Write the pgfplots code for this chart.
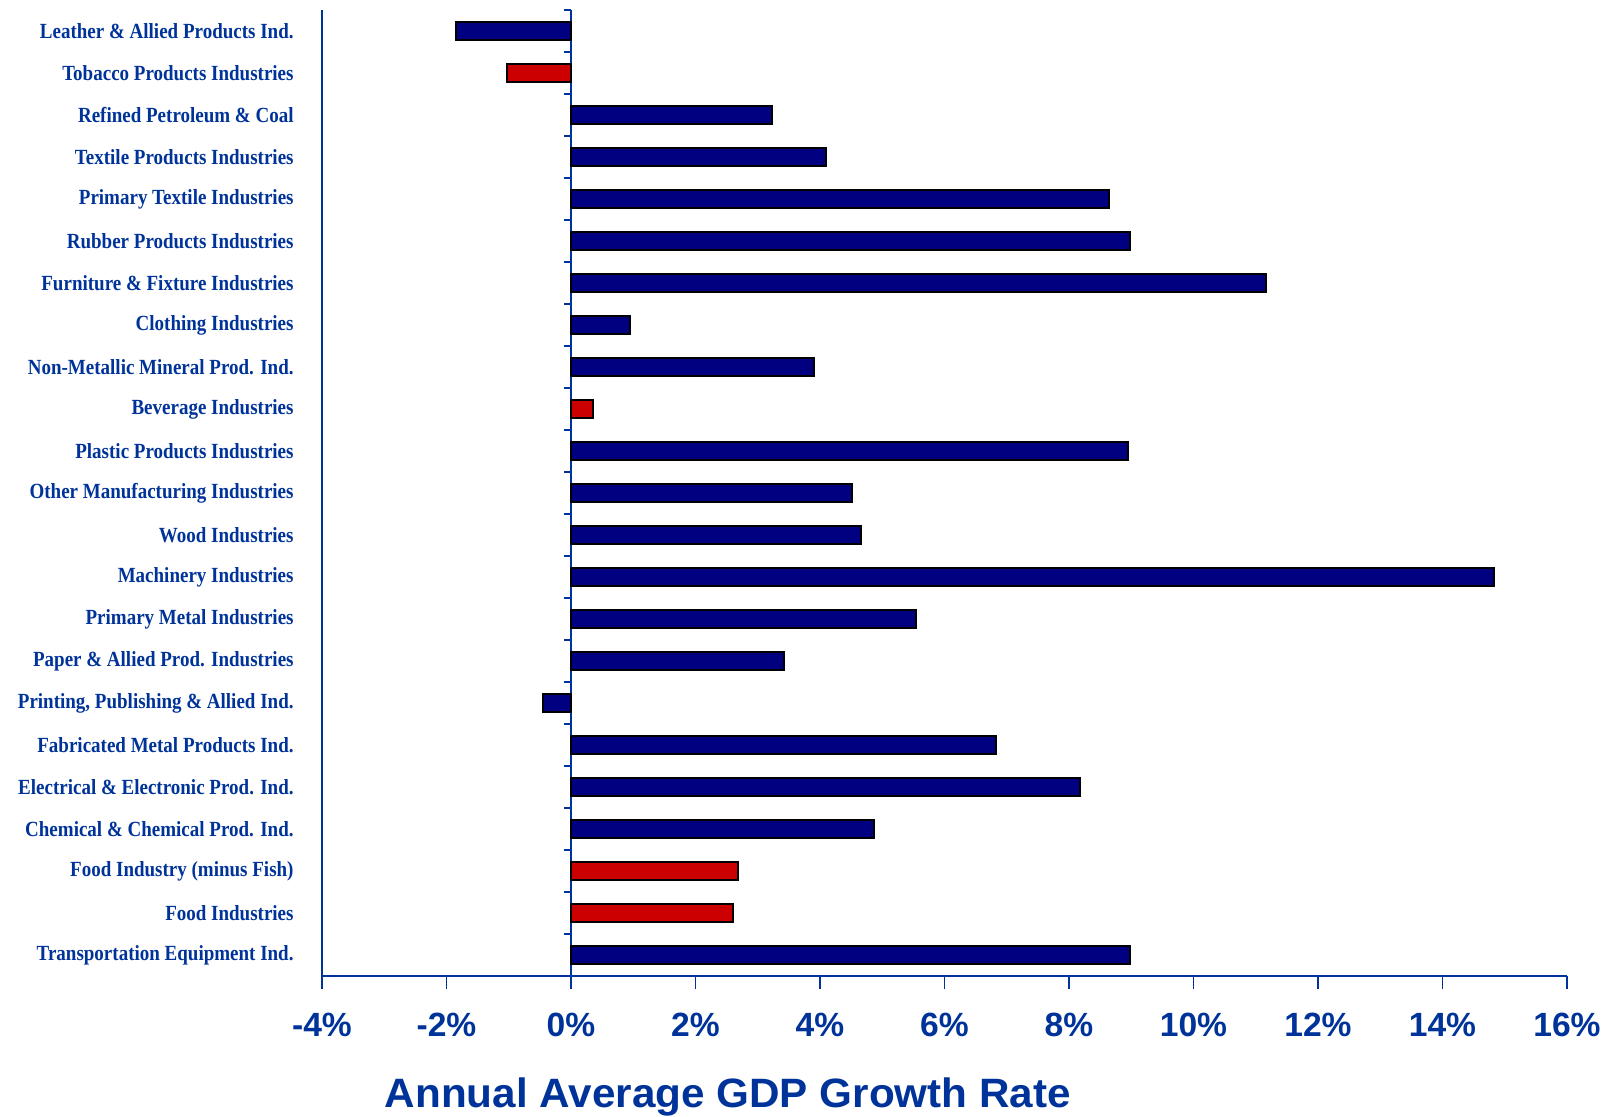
\documentclass[border=0pt]{standalone}
\usepackage{pgfplots}
\usepackage{pgfplotstable}
\pgfplotsset{compat=1.18}
\usepackage{fontspec}
\setmainfont{Liberation Serif}
\newfontfamily\catfont[FakeStretch=0.88]{Liberation Serif}
\newfontfamily\numfont{Liberation Sans}
\newfontfamily\titlefont[FakeStretch=1.03]{Liberation Sans}
\definecolor{txtblue}{RGB}{0,51,153}
\definecolor{barnavy}{RGB}{0,0,128}
\definecolor{barred}{RGB}{204,0,0}

% growth rates (%), index 0 = top row
\pgfplotstableread{
idx val
0 -1.84
2 3.23
3 4.09
4 8.65
5 8.98
6 11.17
7 0.94
8 3.90
10 8.95
11 4.52
12 4.66
13 14.82
14 5.54
15 3.42
16 -0.45
17 6.83
18 8.17
19 4.86
22 8.98
}\bluedata
\pgfplotstableread{
idx val
1 -1.03
9 0.36
20 2.68
21 2.61
}\reddata

\begin{document}
\begin{tikzpicture}
\begin{axis}[
  scale only axis, width=622.5pt, height=483pt,
  xbar, bar width=9.25pt,
  xmin=-4, xmax=16, ymin=-0.5, ymax=22.5, y dir=reverse,
  axis x line*=bottom, axis y line*=left,
  axis line style={txtblue, line width=0.9pt},
  clip=false,
  xtick={-4,-2,...,16},
  xticklabels={-4\%,-2\%,0\%,2\%,4\%,6\%,8\%,10\%,12\%,14\%,16\%},
  xtick style={txtblue, line width=0.9pt},
  tick align=outside, major tick length=6.5pt,
  xticklabel style={font=\numfont\bfseries\fontsize{16.8}{20}\selectfont, text=txtblue,
    anchor=north, inner sep=0pt, yshift=-12pt},
  ytick={0,...,22},
  yticklabels={
    Leather \& Allied Products Ind.,
    Tobacco Products Industries,
    Refined Petroleum \& Coal,
    Textile Products Industries,
    Primary Textile Industries,
    Rubber Products Industries,
    Furniture \& Fixture Industries,
    Clothing Industries,
    Non-Metallic Mineral Prod. Ind.,
    Beverage Industries,
    Plastic Products Industries,
    Other Manufacturing Industries,
    Wood Industries,
    Machinery Industries,
    Primary Metal Industries,
    Paper \& Allied Prod. Industries,
    {Printing, Publishing \& Allied Ind.},
    Fabricated Metal Products Ind.,
    Electrical \& Electronic Prod. Ind.,
    Chemical \& Chemical Prod. Ind.,
    Food Industry (minus Fish),
    Food Industries,
    Transportation Equipment Ind.},
  ytick style={draw=none},
  yticklabel style={font=\catfont\bfseries\fontsize{10.8}{12}\selectfont, text=txtblue,
    anchor=east, inner sep=0pt, xshift=-7.5pt},
  xlabel={Annual Average GDP Growth Rate},
  xlabel style={at={(axis cs:2.52,22.5)}, anchor=base, inner sep=0pt, yshift=-65.5pt,
    font=\titlefont\bfseries\fontsize{20.5}{24}\selectfont, text=txtblue},
]
\draw[txtblue, line width=0.9pt] (axis cs:0,-0.5) -- (axis cs:0,22.5);
\pgfplotsinvokeforeach{-0.5,0.5,...,21.5}{
  \draw[txtblue, line width=0.9pt] (axis cs:0,#1) -- ([xshift=-3.5pt]axis cs:0,#1);
}
\addplot[fill=barnavy, draw=black, line width=1pt, bar shift=0pt]
  table[x=val, y=idx] {\bluedata};
\addplot[fill=barred, draw=black, line width=1pt, bar shift=0pt]
  table[x=val, y=idx] {\reddata};
\coordinate (TL) at (axis cs:-4,-0.5);
\end{axis}
\path (TL) ++(-161pt,5pt) rectangle ++(807pt,-558pt);
\end{tikzpicture}
\end{document}
